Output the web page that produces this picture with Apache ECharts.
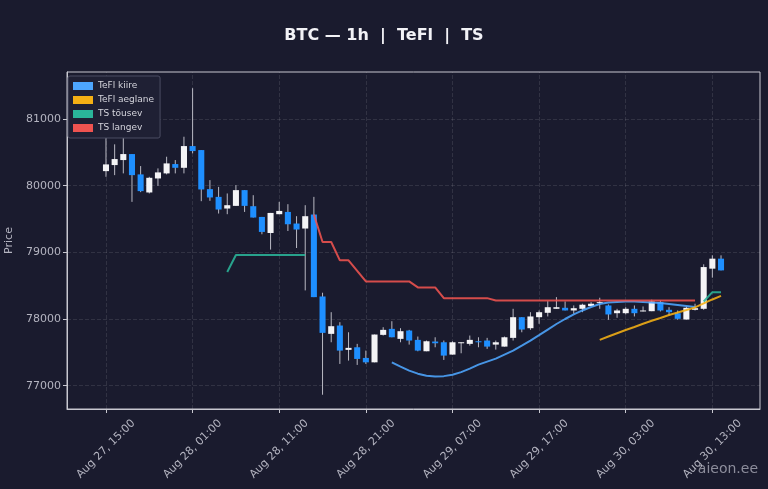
<!DOCTYPE html>
<html lang="et">
<head>
<meta charset="utf-8">
<script src="https://cdn.jsdelivr.net/npm/echarts@6/dist/echarts.min.js"></script>
<style>
  html, body { margin: 0; height: 100%; background: #1a1b2e; }
  #chart { width: 768px; height: 489px; }
</style>
</head>
<body>
<div id="chart"></div>
<script>
// BTC 1h küünlad: Aug 27 15:00 ... Aug 30 14:00 (72 tundi)
const PAD = 4; // tühjad tunnid telje servades
const tickLabels = ['Aug 27, 15:00', 'Aug 28, 01:00', 'Aug 28, 11:00', 'Aug 28, 21:00',
  'Aug 29, 07:00', 'Aug 29, 17:00', 'Aug 30, 03:00', 'Aug 30, 13:00'];
const yTicks = [77000, 78000, 79000, 80000, 81000];

const opens = [80218, 80309, 80384, 80474, 80169, 79898, 80108, 80184, 80324, 80268,
  80594, 80534, 79948, 79832, 79657, 79697, 79933, 79692, 79531, 79290,
  79572, 79606, 79432, 79357, 79567, 78338, 77777, 77902, 77537, 77576,
  77416, 77350, 77762, 77852, 77702, 77827, 77687, 77516, 77662, 77651,
  77466, 77642, 77627, 77666, 77677, 77616, 77586, 77717, 78027, 77862,
  78027, 78093, 78153, 78168, 78128, 78153, 78193, 78238, 78203, 78087,
  78087, 78153, 78113, 78117, 78253, 78138, 78087, 77992, 78138, 78153,
  78755, 78905];
const closes = [80319, 80399, 80474, 80158, 79918, 80118, 80199, 80334, 80268, 80594,
  80519, 79943, 79823, 79642, 79707, 79933, 79697, 79522, 79306, 79591,
  79621, 79421, 79342, 79542, 78328, 77792, 77892, 77526, 77567, 77401,
  77350, 77767, 77837, 77726, 77817, 77677, 77526, 77666, 77636, 77451,
  77651, 77651, 77687, 77651, 77586, 77651, 77726, 78027, 77842, 78038,
  78102, 78177, 78177, 78128, 78162, 78214, 78229, 78253, 78068, 78128,
  78153, 78087, 78128, 78263, 78128, 78102, 78003, 78168, 78162, 78779,
  78905, 78729];
const lows = [80133, 80158, 80184, 79757, 79903, 79883, 79997, 80169, 80184, 80184,
  80485, 79767, 79772, 79582, 79572, 79697, 79606, 79522, 79271, 79041,
  79572, 79320, 79065, 78429, 78328, 76864, 77651, 77326, 77376, 77311,
  77326, 77350, 77752, 77726, 77651, 77616, 77516, 77516, 77576, 77386,
  77466, 77486, 77601, 77576, 77552, 77541, 77586, 77677, 77801, 77837,
  77928, 78038, 78153, 78128, 78078, 78102, 78193, 78153, 77988, 78018,
  78068, 78038, 78113, 78117, 78113, 78053, 77988, 77992, 78128, 78138,
  78620, 78729];
const highs = [80729, 80620, 80734, 80474, 80294, 80133, 80259, 80434, 80384, 80734,
  81462, 80534, 80083, 79982, 79883, 80008, 79933, 79857, 79531, 79591,
  79757, 79722, 79542, 79707, 79832, 78394, 78102, 77952, 77801, 77627,
  77526, 77767, 77877, 77967, 77862, 77837, 77737, 77677, 77726, 77677,
  77666, 77651, 77752, 77726, 77717, 77677, 77737, 78153, 78027, 78102,
  78128, 78268, 78328, 78263, 78203, 78229, 78253, 78319, 78218, 78153,
  78177, 78203, 78188, 78289, 78278, 78177, 78128, 78188, 78229, 78820,
  78955, 78955];

// joonte väärtused, algusindeks küünalde järjekorras
const fastStart = 33;
const fastLine = [77350, 77286, 77225, 77180, 77150, 77138, 77143, 77165, 77203, 77255,
  77316, 77361, 77406, 77466, 77526, 77601, 77677, 77759, 77842, 77925,
  78000, 78068, 78128, 78180, 78226, 78248, 78256, 78263, 78263, 78256,
  78248, 78241, 78226, 78211, 78196, 78180];
const slowStart = 57;
const slowLine = [77687, 77737, 77786, 77835, 77880, 77928, 77973, 78015, 78060, 78098,
  78135, 78173, 78233, 78293, 78346];
const upStartA = 14;
const upLineA = [78704, 78960, 78960, 78960, 78960, 78960, 78960, 78960, 78960, 78960];
const upStartB = 69;
const upLineB = [78263, 78403, 78403];
const downStart = 24;
const downLine = [79567, 79155, 79155, 78880, 78880, 78722, 78564, 78564, 78564, 78564,
  78564, 78564, 78474, 78474, 78474, 78313, 78313, 78313, 78313, 78313,
  78313, 78278, 78278, 78278, 78278, 78278, 78278, 78278, 78278, 78278,
  78278, 78278, 78278, 78278, 78278, 78278, 78278, 78278, 78278, 78278,
  78278, 78278, 78278, 78278, 78278];

const months = ['Jan', 'Feb', 'Mar', 'Apr', 'May', 'Jun', 'Jul', 'Aug', 'Sep', 'Oct', 'Nov', 'Dec'];
const start = Date.UTC(2025, 7, 27, 15);
const total = opens.length + 2 * PAD;
const categories = [];
for (let k = 0; k < total; k++) {
  const d = new Date(start + (k - PAD) * 3600 * 1000);
  const hh = String(d.getUTCHours()).padStart(2, '0');
  categories.push(months[d.getUTCMonth()] + ' ' + d.getUTCDate() + ', ' + hh + ':00');
}

function place(parts) {
  const arr = new Array(total).fill('-');
  parts.forEach(function (p) {
    p[1].forEach(function (v, j) { arr[PAD + p[0] + j] = v; });
  });
  return arr;
}

const candleData = opens.map(function (o, i) {
  return [i + PAD, o, closes[i], lows[i], highs[i]];
});

const isTick = function (idx, val) { return tickLabels.indexOf(categories[idx]) >= 0; };
const FONT = 'DejaVu Sans';
const gridLine = 'rgba(255,255,255,0.10)';

function renderCandle(params, api) {
  const x = api.value(0);
  const o = api.value(1), c = api.value(2), lo = api.value(3), hi = api.value(4);
  const pHi = api.coord([x, hi]), pLo = api.coord([x, lo]);
  const pO = api.coord([x, o]), pC = api.coord([x, c]);
  const w = api.size([1, 0])[0] * 0.7;
  const top = Math.min(pO[1], pC[1]);
  const h = Math.max(Math.abs(pO[1] - pC[1]), 1);
  return {
    type: 'group',
    children: [
      { type: 'line', shape: { x1: pHi[0], y1: pHi[1], x2: pLo[0], y2: pLo[1] },
        style: { stroke: '#b9b9c3', lineWidth: 1 } },
      { type: 'rect', shape: { x: pO[0] - w / 2, y: top, width: w, height: h },
        style: { fill: c >= o ? '#f4f4f6' : '#1e8fff' } }
    ]
  };
}

function lineSeries(name, color, data, extra) {
  return Object.assign({
    name: name, type: 'line', data: data, color: color,
    showSymbol: false, symbol: 'none', connectNulls: false, z: 4,
    lineStyle: { color: color, width: 2, opacity: 0.88 },
    itemStyle: { color: color }
  }, extra || {});
}

const chart = echarts.init(document.getElementById('chart'));
chart.setOption({
  animation: false,
  backgroundColor: '#1a1b2e',
  title: {
    text: 'BTC — 1h  |  TeFl  |  TS', left: 'center', top: 23,
    textStyle: { color: '#f2f2f6', fontSize: 16, fontWeight: 'bold', fontFamily: FONT }
  },
  legend: {
    data: ['TeFl kiire', 'TeFl aeglane', 'TS tõusev', 'TS langev'],
    orient: 'vertical', left: 68, top: 76, icon: 'rect',
    itemWidth: 20, itemHeight: 8, itemGap: 2, padding: [4, 6, 4, 5],
    backgroundColor: '#1f2034', borderColor: '#4b4d62', borderWidth: 1, borderRadius: 2,
    selectedMode: false,
    textStyle: { color: '#d4d4dc', fontSize: 9, fontFamily: FONT, lineHeight: 12 }
  },
  grid: {
    left: 67, right: 8, top: 72, bottom: 80, outerBoundsMode: 'none', containLabel: false,
    show: true, borderColor: '#c8c8d0', borderWidth: 1
  },
  xAxis: {
    type: 'category', data: categories, boundaryGap: true,
    axisLine: { show: true, lineStyle: { color: '#c8c8d0' } },
    axisTick: { show: true, alignWithLabel: true, interval: isTick, length: 4, lineStyle: { color: '#c8c8d0' } },
    axisLabel: { interval: isTick, rotate: 45, align: 'center', verticalAlign: 'middle', margin: 40,
      color: '#b4b4c0', fontSize: 11, fontFamily: FONT },
    splitLine: { show: false }
  },
  yAxis: {
    type: 'value', min: 76650, max: 81705,
    name: 'Price', nameLocation: 'middle', nameGap: 42,
    nameTextStyle: { color: '#b4b4c0', fontSize: 11, fontFamily: FONT },
    axisLine: { show: true, lineStyle: { color: '#c8c8d0' } },
    axisTick: { show: true, length: 4, customValues: yTicks, lineStyle: { color: '#c8c8d0' } },
    axisLabel: { customValues: yTicks, margin: 6, color: '#b4b4c0', fontSize: 11, fontFamily: FONT,
      formatter: function (v) { return String(v); } },
    splitLine: { show: true, lineStyle: { color: gridLine, type: 'dashed' } }
  },
  graphic: [{
    type: 'text', right: 10, top: 462,
    style: { text: 'aieon.ee', font: '14px "DejaVu Sans"', fill: 'rgba(190,190,202,0.7)' }
  }],
  series: [
    {
      name: 'BTC', type: 'custom', renderItem: renderCandle, data: candleData, z: 3,
      encode: { x: 0, y: [1, 2, 3, 4] }
    },
    lineSeries('TeFl kiire', '#4da6ff', place([[fastStart, fastLine]])),
    lineSeries('TeFl aeglane', '#f5b014', place([[slowStart, slowLine]])),
    lineSeries('TS tõusev', '#2ab59a', place([[upStartA, upLineA], [upStartB, upLineB]])),
    lineSeries('TS langev', '#ef5350', place([[downStart, downLine]]), {
      markLine: {
        silent: true, symbol: ['none', 'none'], label: { show: false }, z: 1, animation: false,
        lineStyle: { color: gridLine, type: 'dashed', width: 1 },
        emphasis: { disabled: true },
        data: tickLabels.map(function (t) { return { xAxis: t }; })
      }
    })
  ]
});
window.addEventListener('resize', chart.resize);
</script>
</body>
</html>
